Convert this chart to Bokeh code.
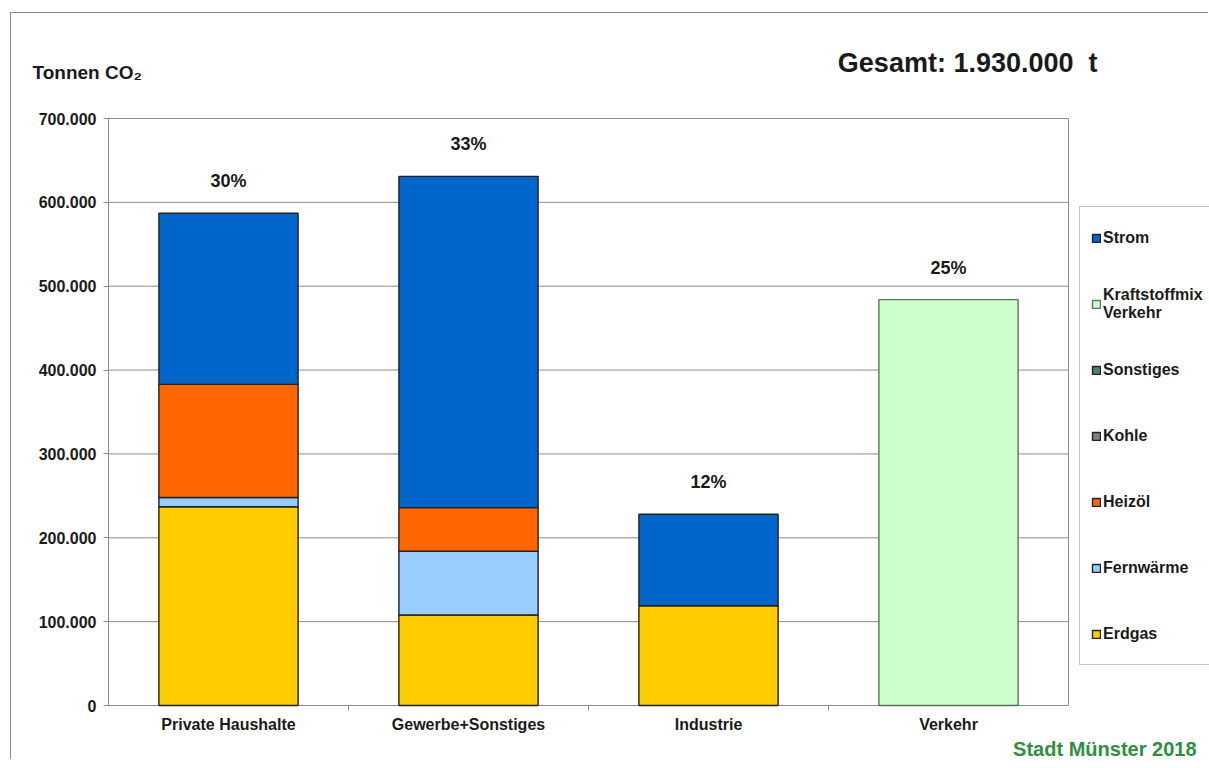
from bokeh.plotting import figure
from bokeh.models import ColumnDataSource, Range1d, FixedTicker, Legend, LegendItem, Label
from bokeh.core.properties import value
from bokeh.embed import file_html
from bokeh.resources import INLINE

# ---------------- data ----------------
categories = ["Private Haushalte", "Gewerbe+Sonstiges", "Industrie", "Verkehr"]
erdgas = [237000, 108000, 119000, 0]
fernwaerme = [11000, 76000, 0, 0]
heizoel = [135000, 52000, 0, 0]
kohle = [0, 0, 0, 0]
sonstiges = [0, 0, 0, 0]
kraftstoffmix = [0, 0, 0, 484000]
strom = [204000, 395000, 109000, 0]
series_names = ["Erdgas", "Fernwärme", "Heizöl", "Kohle", "Sonstiges",
                "Kraftstoffmix\nVerkehr", "Strom"]
series_values = [erdgas, fernwaerme, heizoel, kohle, sonstiges, kraftstoffmix, strom]
series_colors = ["#FFCC00", "#99CCFF", "#FF6600", "#7F7F7F", "#4F7F6F", "#CCFFCC", "#0066CC"]
series_lines = ["#222222", "#222222", "#222222", "#222222", "#222222", "#5A735A", "#222222"]
y_max = 700000
y_ticks = [0, 100000, 200000, 300000, 400000, 500000, 600000, 700000]
y_tick_labels = ["0", "100.000", "200.000", "300.000", "400.000", "500.000", "600.000", "700.000"]
gesamt_label = "Gesamt: 1.930.000\u00a0 t"
y_title = "Tonnen CO\u2082"
source_note = "Stadt Münster 2018"

# ---------------- layout (canvas pixels) ----------------
FONT = "Liberation Sans"
GRID = "#8c8c8c"
W, H = 1198, 747
PL, PR, PT, PB = 97, 1057, 105, 692       # plot-area edges inside the canvas
n = len(categories)
xu = n / (PR - PL)                        # x units per pixel
yu = y_max / (PB - PT)                    # y units per pixel
x_range = Range1d(-PL * xu, n + (W - PR) * xu)
y_range = Range1d(-(H - PB) * yu, y_max + PT * yu)

p = figure(x_range=x_range, y_range=y_range, title=None, width=W, height=H,
           output_backend="svg", toolbar_location=None, min_border=0,
           min_border_left=0, min_border_right=0, min_border_top=0, min_border_bottom=0)
p.styles = {"margin-left": "10px", "margin-top": "12px",
            "border-left": "1px solid #8a8a8a", "border-top": "1px solid #8a8a8a"}
p.outline_line_color = None
p.background_fill_color = "white"
p.border_fill_color = "white"
p.xgrid.grid_line_color = None
p.ygrid.grid_line_color = None

centers = [i + 0.5 for i in range(n)]

# grid lines and plot-area border, limited to the plot area
p.segment(x0=[0] * len(y_ticks), x1=[n] * len(y_ticks), y0=y_ticks, y1=y_ticks,
          line_color=GRID, line_width=1)
p.segment(x0=[0, n], x1=[0, n], y0=[0, 0], y1=[y_max, y_max], line_color=GRID, line_width=1)

# stacked bars
bottoms = [0] * n
renderers = {}
for name, vals, col, lc in zip(series_names, series_values, series_colors, series_lines):
    xs, b, t = [], [], []
    for i in range(n):
        if vals[i] > 0:
            xs.append(centers[i])
            b.append(bottoms[i])
            t.append(bottoms[i] + vals[i])
        bottoms[i] += vals[i]
    if not xs:  # series without values: invisible placeholder so the legend shows its swatch
        xs, b, t = [centers[0]], [float("nan")], [float("nan")]
    src = ColumnDataSource(dict(x=xs, bottom=b, top=t))
    r = p.vbar(x="x", bottom="bottom", top="top", width=0.58, source=src,
               fill_color=col, line_color=lc, line_width=1.4)
    renderers[name] = r

totals = bottoms
grand = sum(totals)
pct = [f"{round(t / grand * 100)}%" for t in totals]
lab_src = ColumnDataSource(dict(x=centers, y=totals, t=pct))
p.text(x="x", y="y", text="t", source=lab_src, text_align="center", text_baseline="middle",
       y_offset=-32, text_font=value(FONT), text_font_style="bold", text_font_size="18px",
       text_color="#1a1a1a")

# axes, pinned to the plot area (lines drawn by the segments above)
xa = p.xaxis[0]
xa.fixed_location = 0
xa.bounds = (0, n)
xa.ticker = FixedTicker(ticks=centers, minor_ticks=list(range(1, n)))
xa.major_label_overrides = {c: l for c, l in zip(centers, categories)}
xa.major_tick_line_color = None
xa.major_tick_out = 0
xa.major_tick_in = 0
xa.minor_tick_line_color = GRID
xa.minor_tick_out = 5
xa.minor_tick_in = 0
xa.major_label_standoff = 5
xa.major_label_text_font_size = "16px"

ya = p.yaxis[0]
ya.fixed_location = 0
ya.bounds = (0, y_max)
ya.ticker = FixedTicker(ticks=y_ticks)
ya.major_label_overrides = {v: l for v, l in zip(y_ticks, y_tick_labels)}
ya.minor_tick_line_color = None
ya.major_tick_line_color = GRID
ya.major_tick_out = 5
ya.major_tick_in = 0
ya.major_label_standoff = 7
ya.major_label_text_font_size = "16px"

for ax in (xa, ya):
    ax.axis_line_color = None
    ax.major_label_text_font = FONT
    ax.major_label_text_font_style = "bold"
    ax.major_label_text_color = "#1a1a1a"

# legend
order = ["Strom", "Kraftstoffmix\nVerkehr", "Sonstiges", "Kohle", "Heizöl", "Fernwärme", "Erdgas"]
items = [LegendItem(label=nm, renderers=[renderers[nm]]) for nm in order]
legend = Legend(items=items, location=(1068, H - 652), orientation="vertical",
                border_line_color=GRID, border_line_width=1,
                label_text_font=FONT, label_text_font_style="bold",
                label_text_font_size="16px", label_text_color="#1a1a1a",
                glyph_width=10, glyph_height=10, label_height=39, label_standoff=2,
                spacing=27, padding=11, margin=0, label_width=125,
                background_fill_color="white", background_fill_alpha=1.0)
p.add_layout(legend)

# texts
p.add_layout(Label(x=21, y=H - 59, x_units="screen", y_units="screen", text=y_title,
                   text_font=FONT, text_font_style="bold", text_font_size="19px",
                   text_baseline="middle", text_color="#1a1a1a"))
p.add_layout(Label(x=1086, y=H - 49, x_units="screen", y_units="screen", text=gesamt_label,
                   text_font=FONT, text_font_style="bold", text_font_size="27px",
                   text_baseline="middle", text_align="right", text_color="#1a1a1a"))
p.add_layout(Label(x=1185, y=H - 735, x_units="screen", y_units="screen", text=source_note,
                   text_font=FONT, text_font_style="bold", text_font_size="20px",
                   text_baseline="middle", text_align="right", text_color="#2F8F3F"))

open("out.html", "w").write(file_html(p, INLINE))
